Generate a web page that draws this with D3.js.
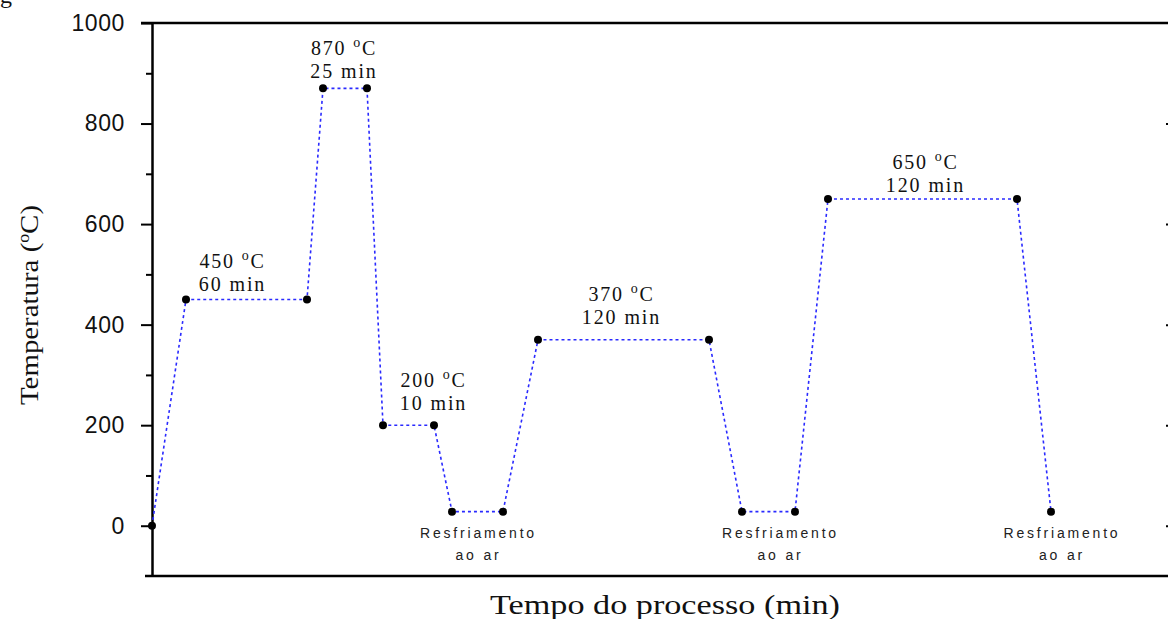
<!DOCTYPE html>
<html>
<head>
<meta charset="utf-8">
<script src="https://cdn.jsdelivr.net/npm/d3@7"></script>
<style>
  body { margin: 0; background: #fff; }
  svg { display: block; }
</style>
</head>
<body>
<div id="chart"></div>
<script>
// process curve, time in arbitrary units (no ticks on the x axis)
var tempo = [0, 34, 155, 171, 215, 231, 282, 300, 351, 386, 557, 590, 643, 676, 865, 899];
var temperatura = [0, 450, 450, 870, 870, 200, 200, 28, 28, 370, 370, 28, 28, 650, 650, 28];

// hold annotations: index of first point of the hold
var patamar_idx = [1, 3, 5, 9, 13];
var patamar_temp = ["450", "870", "200", "370", "650"];
var patamar_min = ["60 min", "25 min", "10 min", "120 min", "120 min"];

var resfr_idx = [7, 11, 15];

var y_ticks = [0, 200, 400, 600, 800, 1000];
var y_minor = [100, 300, 500, 700, 900];

var W = 1168, H = 619;
var svg = d3.select("#chart").append("svg").attr("width", W).attr("height", H);

var x = d3.scaleLinear().domain([0, 1017]).range([152, 1169]);
var y = d3.scaleLinear().domain([-100, 1000]).range([576, 23]);

// frame
svg.append("line").attr("x1", 141).attr("x2", W).attr("y1", y(1000)).attr("y2", y(1000))
	.attr("stroke", "#000").attr("stroke-width", 2.5);
svg.append("line").attr("x1", 145).attr("x2", W).attr("y1", y(-100)).attr("y2", y(-100))
	.attr("stroke", "#000").attr("stroke-width", 2.5);

var yAxis = svg.append("g").attr("transform", "translate(152,0)")
	.call(d3.axisLeft(y).tickValues(y_ticks).tickSize(11).tickSizeOuter(0).tickFormat(d3.format("d")));
yAxis.select(".domain").attr("stroke-width", 2.5);
yAxis.selectAll(".tick line").attr("stroke-width", 2);
yAxis.selectAll("text").attr("font-family", "Liberation Sans, Arial, sans-serif")
	.attr("font-size", 23).attr("fill", "#111").attr("dx", -13).attr("letter-spacing", 0.6);

var yMinor = svg.append("g").attr("transform", "translate(152,0)")
	.call(d3.axisLeft(y).tickValues(y_minor).tickSize(6).tickFormat(""));
yMinor.select(".domain").remove();
yMinor.selectAll(".tick line").attr("stroke-width", 2);

// right side tick stubs
var yRight = svg.append("g").attr("transform", "translate(1169,0)")
	.call(d3.axisLeft(y).tickValues(y_ticks.slice(0, 5)).tickSize(3).tickFormat(""));
yRight.select(".domain").remove();
yRight.selectAll(".tick line").attr("stroke-width", 2);

// dashed process line
var pts = tempo.map(function(t, i){ return [t, temperatura[i]]; });
var line = d3.line().x(function(d){ return x(d[0]); }).y(function(d){ return y(d[1]); });

svg.append("path").datum(pts)
	.attr("d", line)
	.attr("fill", "none")
	.attr("stroke", "#2a2aff")
	.attr("stroke-width", 1.6)
	.attr("stroke-dasharray", "3,3");

svg.selectAll("circle.pt").data(pts).enter().append("circle")
	.attr("class", "pt")
	.attr("cx", function(d){ return x(d[0]); })
	.attr("cy", function(d){ return y(d[1]); })
	.attr("r", 4)
	.attr("fill", "#000");

// hold labels: temperature line and time line
var lab_dx = [-14, -1, 25, -2, 3];
var lab_dy = [-32, -33, -38, -39, -30];
var serif = "Liberation Serif, Times New Roman, serif";

patamar_idx.forEach(function(idx, k){
	var cx = (x(tempo[idx]) + x(tempo[idx + 1])) / 2 + lab_dx[k];
	var by = y(temperatura[idx]) + lab_dy[k];
	var t1 = svg.append("text").attr("x", cx).attr("y", by)
		.attr("text-anchor", "middle").attr("font-family", serif)
		.attr("font-size", 20).attr("letter-spacing", 1.8).attr("fill", "#111");
	t1.append("tspan").text(patamar_temp[k] + " ");
	t1.append("tspan").attr("dy", -8).attr("font-size", 14).text("o");
	t1.append("tspan").attr("dy", 8).text("C");
	svg.append("text").attr("x", cx).attr("y", by + 23)
		.attr("text-anchor", "middle").attr("font-family", serif)
		.attr("font-size", 20).attr("letter-spacing", 1.9).attr("fill", "#111")
		.text(patamar_min[k]);
});

// air cooling labels
var res_dx = [1, 12, 11];
resfr_idx.forEach(function(idx, k){
	var cx = (idx + 1 < tempo.length ? (x(tempo[idx]) + x(tempo[idx + 1])) / 2 : x(tempo[idx])) + res_dx[k];
	var by = y(temperatura[idx]) + 26;
	var t = svg.append("text").attr("x", cx).attr("y", by)
		.attr("text-anchor", "middle").attr("font-family", "Liberation Sans, Arial, sans-serif")
		.attr("font-size", 14).attr("letter-spacing", 2.8).attr("fill", "#222");
	t.append("tspan").text("Resfriamento");
	t.append("tspan").attr("x", cx).attr("dy", 22).text("ao ar");
});

// axis titles
svg.append("text").attr("x", 665).attr("y", 614)
	.attr("text-anchor", "middle").attr("font-family", serif)
	.attr("font-size", 28).attr("fill", "#111")
	.attr("textLength", 350).attr("lengthAdjust", "spacingAndGlyphs")
	.text("Tempo do processo (min)");

var yt = svg.append("text").attr("transform", "translate(38,305) rotate(-90)")
	.attr("text-anchor", "middle").attr("font-family", serif)
	.attr("font-size", 26).attr("fill", "#111")
	.attr("textLength", 200).attr("lengthAdjust", "spacingAndGlyphs");
yt.append("tspan").text("Temperatura  (");
yt.append("tspan").attr("dy", -9).attr("font-size", 16).text("o");
yt.append("tspan").attr("dy", 9).text("C)");

// cut-off caption fragment at top left
svg.append("text").attr("x", 0).attr("y", 3).attr("font-family", serif)
	.attr("font-size", 24).attr("fill", "#111").text("g");
</script>
</body>
</html>
